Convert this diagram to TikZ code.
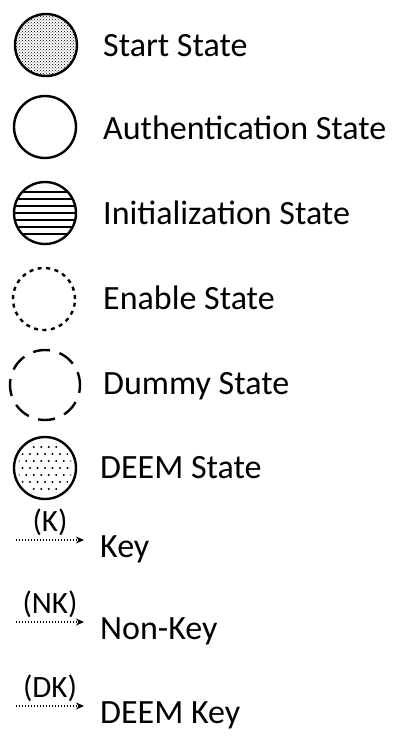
\documentclass[tikz,border=0pt]{standalone}
\usepackage{fontspec}
\setmainfont{Carlito}
\usetikzlibrary{arrows.meta,positioning,patterns,calc}

\begin{document}
\begin{tikzpicture}[
  x=1pt, y=-1pt,
  font=\fontsize{34}{40}\selectfont,
  state/.style={circle, draw=black, line width=2.4pt, minimum size=62pt, inner sep=0pt},
  legtext/.style={anchor=base west, inner sep=0pt},
  keytag/.style={font=\fontsize{31}{36}\selectfont, inner sep=0pt},
  keyarrow/.style={-{Stealth[length=8pt,width=7pt]}, line width=1.3pt,
    dash pattern=on 1.3pt off 1.7pt}
]
\useasboundingbox (0,0) rectangle (397,753);

% state symbols
\node[state, pattern=crosshatch dots] (start) at (46,45) {};
\node[state] (auth) at (45,127) {};
\node[state] (init) at (45,213) {};
\begin{scope}
  \clip (init.center) circle (30pt);
  \foreach \dy in {-21,-14,...,21}
    \draw[line width=1.6pt] ([yshift=\dy pt]init.west) -- ([yshift=\dy pt]init.east);
\end{scope}
\node[state, dash pattern=on 4pt off 4.5pt] (enable) at (44,299) {};
\node[state, minimum size=70pt, dash pattern=on 17pt off 10pt, dash phase=4pt] (dummy) at (45,385) {};
\node[state] (deem) at (45,468) {};
\begin{scope}
  \clip (deem.center) circle (27pt);
  \foreach \i in {-4,...,4}
    \foreach \j in {-4,...,4}
      \fill ([xshift={\i*7.5pt+mod(\j+4,2)*3.75pt}, yshift={\j*7pt}]deem.center) circle (1.1pt);
\end{scope}

% state names
\node[legtext] (startlbl) at (103,56) {Start State};
\node[legtext] (authlbl) at (103,139) {Authentication State};
\node[legtext] (initlbl) at (103,224) {Initialization State};
\node[legtext] (enablelbl) at (103,309) {Enable State};
\node[legtext] (dummylbl) at (103,394) {Dummy State};
\node[legtext] (deemlbl) at (100,478) {DEEM State};

% key arrows
\foreach \tag/\name/\y/\txt in {K/k/540/Key, NK/nk/622/Non-Key, DK/dk/706/DEEM Key} {
  \coordinate (\name-from) at (16,\y);
  \coordinate (\name-to) at (84,\y);
  \draw[keyarrow] (\name-from) -- (\name-to);
  \node[keytag, above=4pt of {$(\name-from)!0.5!(\name-to)$}] (\name-tag) {(\tag)};
  \node[legtext] (\name-lbl) at (100,\y+17) {\txt};
}
\end{tikzpicture}
\end{document}
